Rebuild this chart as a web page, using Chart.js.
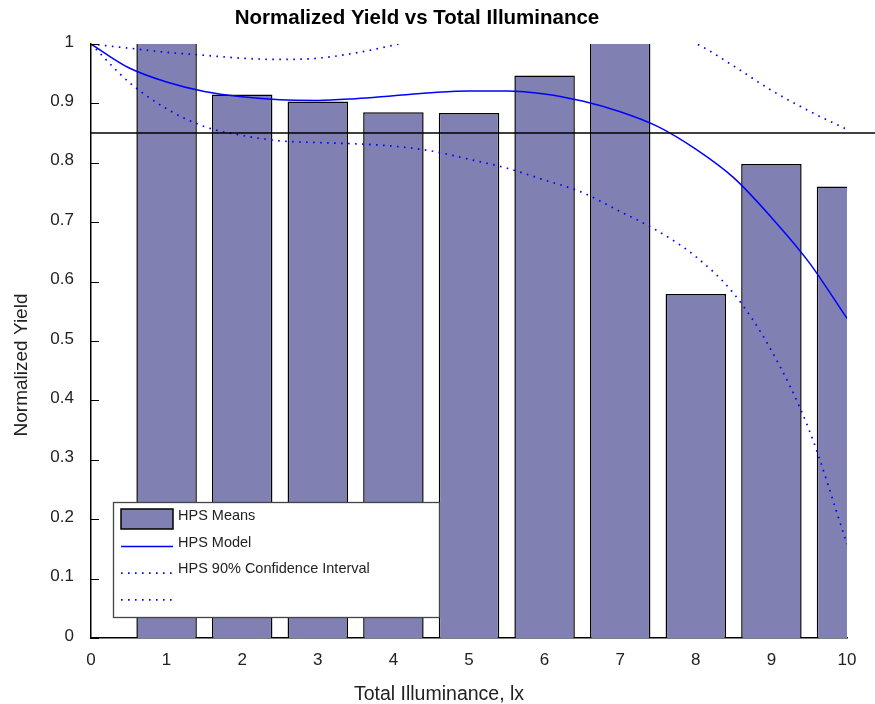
<!DOCTYPE html>
<html>
<head>
<meta charset="utf-8">
<script src="https://cdn.jsdelivr.net/npm/chart.js@4.4.1/dist/chart.umd.min.js"></script>
<style>
body{margin:0;background:#fff;}
#wrap{width:875px;height:704px;}
</style>
</head>
<body>
<div id="wrap"><canvas id="chart" width="875" height="704"></canvas></div>
<script>

// data
const illuminance = [1,2,3,4,5,6,7,8,9,10];
const hpsMeans = [1.05,0.915,0.903,0.885,0.884,0.947,1.05,0.579,0.798,0.760];

const curveX = [0,0.5,1,1.5,2,2.5,3,3.5,4,4.5,5,5.5,6,6.5,7,7.5,8,8.5,9,9.5,10];
const hpsModel = [1.0,0.96,0.936,0.92,0.911,0.906,0.905,0.908,0.913,0.918,0.921,0.921,0.916,0.904,0.886,0.861,0.823,0.775,0.708,0.632,0.538];
const ciLower = [1.0,0.936,0.891,0.861,0.846,0.837,0.834,0.832,0.828,0.82,0.806,0.791,0.771,0.75,0.718,0.685,0.642,0.58,0.484,0.35,0.158];
const ciUpper = [1.0,0.993,0.986,0.981,0.976,0.974,0.976,0.985,0.998,1.014,1.028,1.04,1.047,1.048,1.04,1.024,1.001,0.963,0.922,0.887,0.856];

const threshold = 0.85;

const xTickLabels = ['0','1','2','3','4','5','6','7','8','9','10'];
const yTickLabels = ['0','0.1','0.2','0.3','0.4','0.5','0.6','0.7','0.8','0.9','1'];

const FONT = '"Liberation Sans", Arial, sans-serif';

function pts(xs, ys){
  return xs.map((x,i)=>({x:x, y:ys[i]}));
}

// extra drawing: reference line, inward ticks, titles, legend
const decor = {
  id:'decor',
  afterDatasetsDraw(chart){
    const ctx = chart.ctx;
    const a = chart.chartArea;
    const y = chart.scales.y;
    ctx.save();
    const py = y.getPixelForValue(threshold);
    ctx.strokeStyle = '#000';
    ctx.lineWidth = 1.5;
    ctx.beginPath();
    ctx.moveTo(a.left - 1, py);
    ctx.lineTo(chart.width, py);
    ctx.stroke();

    ctx.lineWidth = 1;
    y.ticks.forEach((t,i)=>{
      const p = Math.round(y.getPixelForTick(i)) + 0.5;
      ctx.beginPath();
      ctx.moveTo(a.left, p);
      ctx.lineTo(a.left + 8, p);
      ctx.stroke();
    });
    ctx.restore();
  },
  afterDraw(chart){
    const ctx = chart.ctx;
    ctx.save();
    ctx.fillStyle = '#000';

    // title
    ctx.font = 'bold 20.5px ' + FONT;
    ctx.textAlign = 'center';
    ctx.textBaseline = 'alphabetic';
    ctx.fillText('Normalized Yield vs Total Illuminance', 417, 24);

    // x title
    ctx.fillStyle = '#222';
    ctx.font = '19.5px ' + FONT;
    ctx.fillText('Total Illuminance, lx', 439, 700);

    // y title
    ctx.save();
    ctx.translate(26.5, 365);
    ctx.rotate(-Math.PI/2);
    ctx.font = '19px ' + FONT;
    ctx.fillText('Normalized Yield', 0, 0);
    ctx.restore();

    // legend
    const L = 113, T = 502, W = 326, H = 115;
    ctx.fillStyle = '#fff';
    ctx.fillRect(L, T, W, H);
    ctx.strokeStyle = '#444';
    ctx.lineWidth = 1.3;
    ctx.strokeRect(L + 0.5, T + 0.5, W, H);

    ctx.font = '14.5px ' + FONT;
    ctx.textAlign = 'left';
    chart.data.datasets.forEach((ds,i)=>{
      const base = T + 18 + i*26.6;
      if(ds.type === 'bar'){
        ctx.fillStyle = ds.backgroundColor;
        ctx.fillRect(121, base - 11, 52, 20);
        ctx.strokeStyle = '#000';
        ctx.lineWidth = 1.5;
        ctx.strokeRect(121, base - 11, 52, 20);
      } else {
        ctx.strokeStyle = ds.borderColor;
        ctx.lineWidth = ds.borderWidth;
        ctx.setLineDash(ds.borderDash || []);
        ctx.beginPath();
        ctx.moveTo(121, base);
        ctx.lineTo(173, base);
        ctx.stroke();
        ctx.setLineDash([]);
      }
      ctx.fillStyle = '#222';
      ctx.fillText(ds.label, 178, base);
    });
    ctx.restore();
  }
};

const ctx = document.getElementById('chart').getContext('2d');

const chart = new Chart(ctx,{
type:'bar',
data:{
datasets:[
{
type:'bar',
label:'HPS Means',
data:pts(illuminance, hpsMeans),
backgroundColor:'rgb(128,128,178)',
borderColor:'#000',
borderWidth:1.5,
barPercentage:0.8,
categoryPercentage:1,
clip:0,
order:5
},
{
type:'line',
label:'HPS Model',
data:pts(curveX, hpsModel),
borderColor:'#0000ff',
borderWidth:1.5,
pointRadius:0,
cubicInterpolationMode:'monotone',
fill:false,
clip:0,
order:1
},
{
type:'line',
label:'HPS 90% Confidence Interval',
data:pts(curveX, ciLower),
borderColor:'#0000ff',
borderWidth:1.7,
borderDash:[1.6,5.4],
pointRadius:0,
cubicInterpolationMode:'monotone',
fill:false,
clip:0,
order:2
},
{
type:'line',
label:'',
data:pts(curveX, ciUpper),
borderColor:'#0000ff',
borderWidth:1.7,
borderDash:[1.6,5.4],
pointRadius:0,
cubicInterpolationMode:'monotone',
fill:false,
clip:0,
order:3
}
]
},
options:{
responsive:false,
animation:false,
layout:{padding:{left:0,top:44,right:28,bottom:0}},
plugins:{
legend:{display:false},
title:{display:false},
tooltip:{enabled:false}
},
scales:{
x:{
type:'linear',
min:0,
max:10,
offset:false,
grid:{display:false,drawTicks:false,tickLength:0},
border:{display:true,color:'#000',width:1.5},
ticks:{
stepSize:1,
padding:12,
maxRotation:0,
autoSkip:false,
color:'#222',
font:{family:FONT,size:17},
callback:(v,i)=>xTickLabels[i]
},
afterFit:(s)=>{s.height = 66;}
},
y:{
min:0,
max:1,
grid:{display:false,drawTicks:false,tickLength:0},
border:{display:true,color:'#000',width:1.5},
ticks:{
stepSize:0.1,
padding:17,
labelOffset:-2,
color:'#222',
font:{family:FONT,size:17},
callback:(v,i)=>yTickLabels[i]
},
afterFit:(s)=>{s.width = 91;}
}
}
},
plugins:[decor]
});

</script>
</body>
</html>
